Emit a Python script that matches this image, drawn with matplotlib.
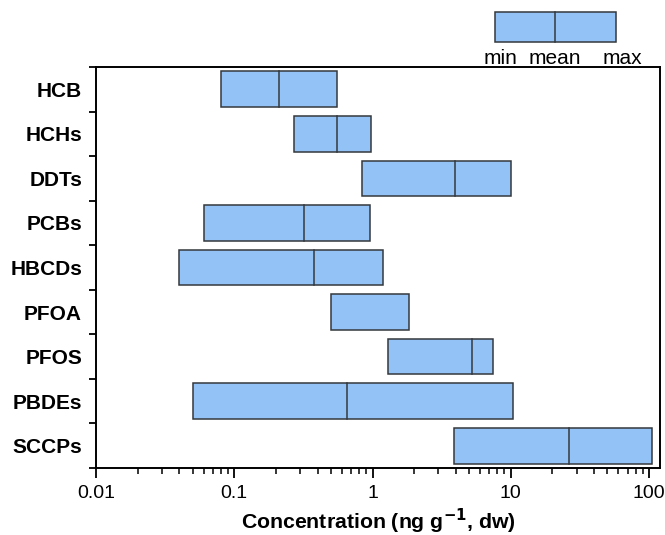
import matplotlib
matplotlib.use("Agg")
from matplotlib import pyplot as plt
from matplotlib.patches import Rectangle
import numpy as np

plt.rcParams["font.family"] = ["Liberation Sans", "DejaVu Sans"]

compounds = ["HCB", "HCHs", "DDTs", "PCBs", "HBCDs", "PFOA", "PFOS", "PBDEs", "SCCPs"]
conc_min = [0.080, 0.27, 0.84, 0.060, 0.040, 0.50, 1.29, 0.050, 3.86]
conc_mean = [0.21, 0.55, 3.97, 0.32, 0.38, None, 5.2, 0.65, 26.2]
conc_max = [0.55, 0.98, 10.0, 0.96, 1.19, 1.85, 7.45, 10.4, 105]

fill = "#93c2f7"
edge = "#34383c"

fig = plt.figure(figsize=(6.65, 5.35), dpi=100)
ax = fig.add_axes([96 / 665, 1 - 468 / 535, (660 - 96) / 665, (468 - 67) / 535])

y = np.arange(len(compounds))
widths = [hi - lo for lo, hi in zip(conc_min, conc_max)]
ax.barh(y, widths, left=conc_min, height=0.8, color=fill, edgecolor=edge, linewidth=1.1)

# mean line inside each box
for i, m in enumerate(conc_mean):
    if m is not None:
        ax.plot([m, m], [i - 0.4, i + 0.4], color=edge, linewidth=1.1)

ax.set_xscale("log")
ax.set_xlim(0.01, 120)
ax.set_ylim(len(compounds) - 0.5, -0.5)

ax.set_yticks(np.arange(-0.5, len(compounds), 1))
ax.set_yticklabels([])
ax.set_yticks(y, minor=True)
ax.set_yticklabels(compounds, minor=True, fontsize=15, fontweight="bold")
ax.tick_params(axis="y", which="major", direction="out", length=5, width=1.3)
ax.tick_params(axis="y", which="minor", length=0, pad=10)

ax.set_xticks([0.01, 0.1, 1, 10, 100])
ax.set_xticklabels(["0.01", "0.1", "1", "10", "100"])
ax.tick_params(axis="x", which="major", direction="out", length=7, width=1.3, labelsize=14, pad=5)
ax.tick_params(axis="x", which="minor", direction="out", length=4, width=1.1)

for s in ax.spines.values():
    s.set_linewidth(1.4)

xl = ax.set_xlabel("Concentration (ng g$^{\\mathbf{-1}}$, dw)", fontsize=15.3, fontweight="bold")
xl.set_va("baseline")
ax.xaxis.set_label_coords(0.5, -(529 - 468) / 401)

# key box above the plot
W, H = 665, 535
fig.patches.append(Rectangle((495 / W, 1 - 42 / H), (616 - 495) / W, 30 / H,
                             transform=fig.transFigure, facecolor=fill, edgecolor=edge, linewidth=1.1))
fig.add_artist(plt.Line2D([555 / W, 555 / W], [1 - 42 / H, 1 - 12 / H],
                          transform=fig.transFigure, color=edge, linewidth=1.1))
for label, xp in [("min", 501), ("mean", 555), ("max", 622)]:
    fig.text(xp / W, 1 - 64 / H, label, ha="center", va="baseline", fontsize=15)

fig.savefig("out.png", dpi=100)
